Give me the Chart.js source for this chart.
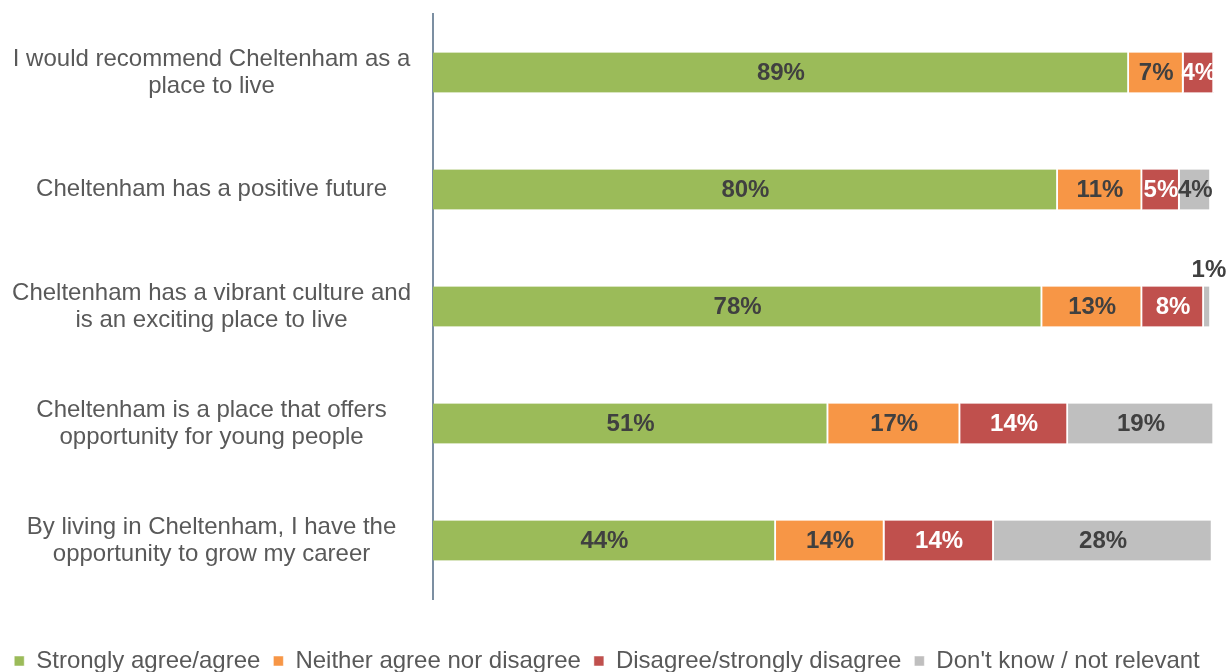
<!DOCTYPE html>
<html>
<head>
<meta charset="utf-8">
<script src="https://cdn.jsdelivr.net/npm/chart.js@4/dist/chart.umd.min.js"></script>
<style>
html,body{margin:0;padding:0;background:#fff;overflow:hidden;}
#wrap{width:1228px;height:672px;position:relative;}
</style>
</head>
<body>
<div id="wrap"><canvas id="c" width="1228" height="672"></canvas></div>
<script>
const categories = [
  ["I would recommend Cheltenham as a", "place to live"],
  "Cheltenham has a positive future",
  ["Cheltenham has a vibrant culture and", "is an exciting place to live"],
  ["Cheltenham is a place that offers", "opportunity for young people"],
  ["By living in Cheltenham, I have the", "opportunity to grow my career"]
];
const seriesNames = ["Strongly agree/agree", "Neither agree nor disagree", "Disagree/strongly disagree", "Don't know / not relevant"];
const agree    = [89.1, 80.0, 78.0, 50.6, 43.9];
const neither  = [7.0, 10.8, 12.8, 16.9, 13.9];
const disagree = [3.9, 4.8, 7.9, 13.8, 14.0];
const dontKnow = [0, 4.0, 0.9, 18.7, 28.0];
const colors = ["#9BBB59", "#F79646", "#C0504D", "#BFBFBF"];
const labelColors = ["#404040", "#404040", "#FFFFFF", "#404040"];
const FONT = "'Liberation Sans', Arial, sans-serif";

const labelPlugin = {
  id: 'barLabels',
  afterDatasetsDraw(chart) {
    const ctx = chart.ctx;
    ctx.save();
    ctx.font = "bold 24px " + FONT;
    ctx.textAlign = 'center';
    ctx.textBaseline = 'middle';
    chart.data.datasets.forEach((ds, di) => {
      const meta = chart.getDatasetMeta(di);
      meta.data.forEach((el, i) => {
        const v = ds.data[i];
        if (!v) return;
        const txt = Math.round(v) + '%';
        if (v < 2) {
          ctx.fillStyle = '#404040';
          ctx.fillText(txt, el.x - 2, el.y - 36);
        } else {
          ctx.fillStyle = labelColors[di];
          ctx.fillText(txt, (el.x + el.base) / 2, el.y + 1);
        }
      });
    });
    ctx.restore();
  }
};

const dataArrays = [agree, neither, disagree, dontKnow];
new Chart(document.getElementById('c'), {
  type: 'bar',
  data: {
    labels: categories,
    datasets: seriesNames.map((n, i) => ({
      label: n,
      data: dataArrays[i],
      backgroundColor: colors[i],
      borderColor: '#FFFFFF',
      borderWidth: {top: 0, bottom: 0, left: 0, right: 2},
      borderSkipped: false,
      barThickness: 40
    }))
  },
  options: {
    indexAxis: 'y',
    responsive: false,
    animation: false,
    layout: {padding: {top: 14, right: 14, left: 0, bottom: -11}},
    scales: {
      x: {
        stacked: true, min: 0, max: 100,
        display: false
      },
      y: {
        stacked: true,
        grid: {display: false, drawTicks: false},
        border: {display: true, color: '#7C8FA2', width: 2},
        ticks: {
          color: '#595959',
          padding: 22,
          font: {family: FONT, size: 24, lineHeight: 1.12},
          crossAlign: 'center'
        },
        afterFit(scale) {
          scale.width = 433;
          scale.paddingTop = 0;
          scale.paddingBottom = 0;
        }
      }
    },
    plugins: {
      legend: {
        position: 'bottom',
        title: {display: true, text: '', padding: {top: 36, bottom: 0}, font: {size: 1, lineHeight: 1}},
        labels: {
          boxWidth: 10, boxHeight: 10,
          color: '#595959',
          padding: 13,
          font: {family: FONT, size: 24}
        }
      },
      tooltip: {enabled: false}
    }
  },
  plugins: [labelPlugin]
});
</script>
</body>
</html>
